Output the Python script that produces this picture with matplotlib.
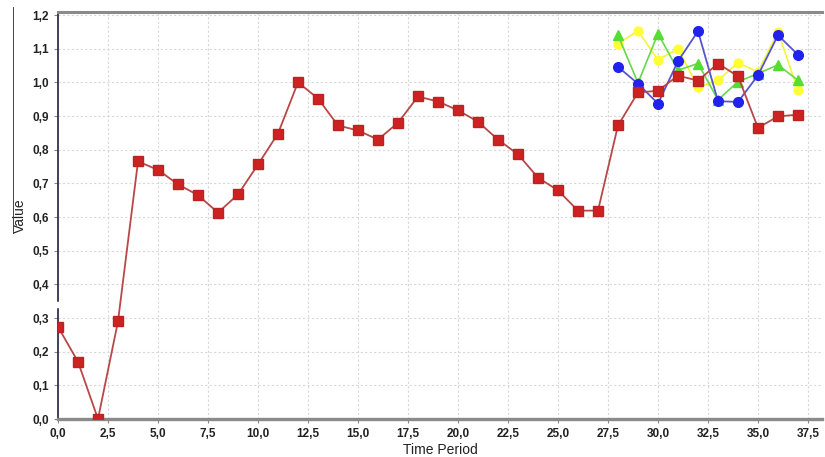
import matplotlib
matplotlib.use("Agg")
import matplotlib.pyplot as plt
from matplotlib.ticker import MultipleLocator, FuncFormatter
from matplotlib.lines import Line2D

plt.rcParams['font.family'] = ['Liberation Sans', 'DejaVu Sans']

# Observed series over the whole time range
time_main = list(range(38))
observed = [0.274, 0.170, 0.000, 0.290, 0.765, 0.740, 0.697, 0.665, 0.613, 0.667,
            0.756, 0.848, 1.000, 0.952, 0.872, 0.857, 0.830, 0.880, 0.958, 0.943,
            0.917, 0.883, 0.830, 0.786, 0.717, 0.679, 0.619, 0.619, 0.872, 0.970,
            0.975, 1.020, 1.005, 1.056, 1.018, 0.865, 0.899, 0.904]

# Alternative runs over the final periods
time_tail = list(range(28, 38))
run_blue = [1.046, 0.996, 0.937, 1.063, 1.152, 0.944, 0.942, 1.021, 1.140, 1.082]
run_green = [1.140, 0.998, 1.145, 1.036, 1.056, 0.948, 1.002, 1.026, 1.052, 1.006]
run_yellow = [1.115, 1.153, 1.067, 1.100, 0.986, 1.006, 1.058, 1.031, 1.150, 0.976]

fig = plt.figure(figsize=(8.25, 4.57), dpi=100)
ax = fig.add_axes([58 / 825, 1 - 419 / 457, (822 - 58) / 825, (419 - 12) / 457])

ax.plot(time_tail, run_yellow, color='#f4f43a', lw=1.2, marker='o', ms=6.3,
        mfc='#ffff33', mec='#ffff33', zorder=3)
ax.plot(time_tail, run_green, color='#66d94a', lw=1.2, marker='^', ms=7,
        mfc='#55dd33', mec='#55dd33', zorder=4)
ax.plot(time_tail, run_blue, color='#5555cc', lw=1.3, marker='o', ms=7,
        mfc='#2222ee', mec='#2222ee', zorder=5)
ax.plot(time_main, observed, color='#b84848', lw=1.3, marker='s', ms=6.5,
        mfc='#cc2222', mec='#bb2222', zorder=6)

ax.set_xlim(0, 38.2)
ax.set_ylim(0, 1.209)
ax.xaxis.set_major_locator(MultipleLocator(2.5))
ax.yaxis.set_major_locator(MultipleLocator(0.1))
ax.xaxis.set_major_formatter(FuncFormatter(lambda v, p: f"{v:.1f}".replace('.', ',')))
ax.yaxis.set_major_formatter(FuncFormatter(lambda v, p: f"{v:.1f}".replace('.', ',')))

ax.grid(True, color='#d8d8d8', linestyle=(0, (2, 2)), linewidth=0.8)
ax.set_axisbelow(True)

ax.spines['right'].set_visible(False)
ax.spines['top'].set_color('#8a8a8a')
ax.spines['top'].set_linewidth(2.2)
ax.spines['left'].set_color('#333350')
ax.spines['left'].set_linewidth(1.3)
ax.spines['bottom'].set_color('#8a8a8a')
ax.spines['bottom'].set_linewidth(2.4)

ax.tick_params(axis='both', direction='out', length=3, width=0.8, color='#888888',
               labelsize=8.5, labelcolor='#222222')
for lbl in ax.get_xticklabels() + ax.get_yticklabels():
    lbl.set_fontweight('bold')

ax.set_xlabel('Time Period', fontsize=10, color='#222222', labelpad=2)
ax.set_ylabel('Value', fontsize=10, color='#222222', labelpad=4)

# Small gap in the vertical axis line
fig.add_artist(Line2D([58 / 825, 58 / 825], [1 - 306 / 457, 1 - 302.5 / 457],
                      color='white', lw=2.5, zorder=10))
# Thin rule at the far left edge
fig.add_artist(Line2D([13 / 825, 13 / 825], [1 - 233 / 457, 1 - 7 / 457],
                      color='#444444', lw=0.7))

fig.savefig('out.png', dpi=100, facecolor='white')
